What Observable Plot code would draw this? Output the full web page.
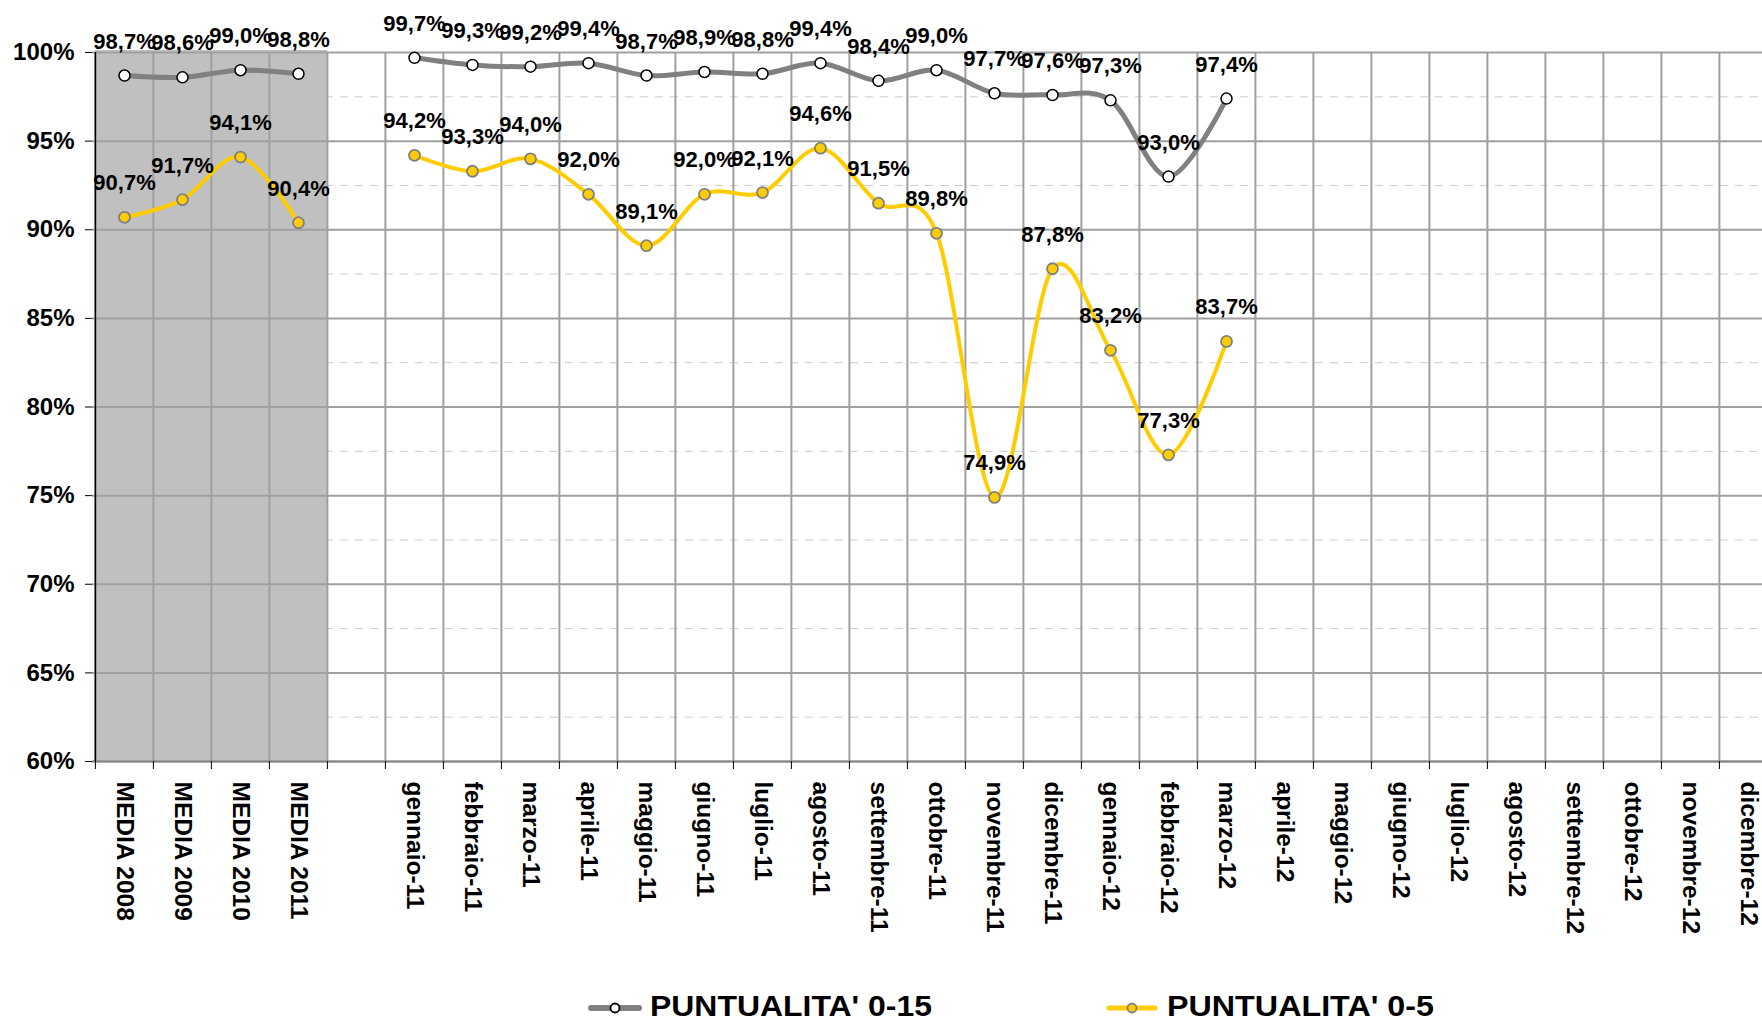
<!DOCTYPE html>
<html>
<head>
<meta charset="utf-8">
<script src="https://cdn.jsdelivr.net/npm/d3@7"></script>
<script src="https://cdn.jsdelivr.net/npm/@observablehq/plot@0.6"></script>
<style>
html, body { margin: 0; padding: 0; background: #fff; overflow: hidden; }
#wrap { position: relative; width: 1762px; height: 1023px; overflow: hidden; font-family: "Liberation Sans", Arial, sans-serif; }
#chart { position: absolute; left: 0; top: 0; width: 1780px; }
#legend { position: absolute; left: 0; top: 972px; }
</style>
</head>
<body>
<div id="wrap">
  <div id="chart"></div>
  <svg id="legend" width="1762" height="51"></svg>
</div>
<script>
// ---- data ----
const mediaLabels = ["MEDIA 2008", "MEDIA 2009", "MEDIA 2010", "MEDIA 2011"];
const gapLabel = " ";
const monthLabels = [
  "gennaio-11", "febbraio-11", "marzo-11", "aprile-11", "maggio-11", "giugno-11",
  "luglio-11", "agosto-11", "settembre-11", "ottobre-11", "novembre-11", "dicembre-11",
  "gennaio-12", "febbraio-12", "marzo-12", "aprile-12", "maggio-12", "giugno-12",
  "luglio-12", "agosto-12", "settembre-12", "ottobre-12", "novembre-12", "dicembre-12"
];
const p15Media = [98.7, 98.6, 99.0, 98.8];
const p15Monthly = [99.7, 99.3, 99.2, 99.4, 98.7, 98.9, 98.8, 99.4, 98.4, 99.0, 97.7, 97.6, 97.3, 93.0, 97.4];
const p5Media = [90.7, 91.7, 94.1, 90.4];
const p5Monthly = [94.2, 93.3, 94.0, 92.0, 89.1, 92.0, 92.1, 94.6, 91.5, 89.8, 74.9, 87.8, 83.2, 77.3, 83.7];
const yMajorTicks = [60, 65, 70, 75, 80, 85, 90, 95, 100];
const yMinorTicks = [62.5, 67.5, 72.5, 77.5, 82.5, 87.5, 92.5, 97.5];
const seriesNames = ["PUNTUALITA' 0-15", "PUNTUALITA' 0-5"];

// ---- build tables ----
const xDomain = [...mediaLabels, gapLabel, ...monthLabels];
const s15 = [], s5 = [];
mediaLabels.forEach((c, i) => {
  s15.push({cat: c, v: p15Media[i], seg: "media"});
  s5.push({cat: c, v: p5Media[i], seg: "media"});
});
p15Monthly.forEach((v, i) => s15.push({cat: monthLabels[i], v, seg: "mesi"}));
p5Monthly.forEach((v, i) => s5.push({cat: monthLabels[i], v, seg: "mesi"}));

const fmt = v => v.toFixed(1).replace(".", ",") + "%";

// ---- layout ----
const W = 1780, H = 960, ML = 92, MR = 0, MT = 52, MB = 199;
const bw = (W - ML - MR) / xDomain.length;
const GRAY = "#808080", GOLD = "#FFCC00", GRID = "#a0a0a0";
const FONT = "'Liberation Sans', Arial, sans-serif";

const chart = Plot.plot({
  width: W, height: H,
  marginLeft: ML, marginRight: MR, marginTop: MT, marginBottom: MB,
  style: {fontFamily: FONT, background: "transparent", color: "#000", maxWidth: "none", overflow: "visible"},
  x: {type: "band", domain: xDomain, padding: 0},
  y: {domain: [60, 100]},
  marks: [
    Plot.barY(mediaLabels, {x: d => d, y1: 60, y2: 100, fill: "#c0c0c0", insetTop: -2}),
    Plot.ruleY(yMinorTicks, {y: d => d, stroke: "#cccccc", strokeWidth: 1, strokeDasharray: "8,7", insetLeft: bw * mediaLabels.length}),
    Plot.ruleY(yMajorTicks, {y: d => d, stroke: GRID, strokeWidth: 2}),
    Plot.ruleX(xDomain, {x: d => d, dx: -bw / 2, stroke: GRID, strokeWidth: 2}),
    Plot.ruleY([60], {y: d => d, stroke: "#888", strokeWidth: 2}),
    Plot.ruleX([xDomain[0]], {x: d => d, dx: -bw / 2, stroke: "#000", strokeWidth: 1.5}),
    Plot.axisY({ticks: yMajorTicks, tickSize: 7, tickPadding: 11, tickFormat: d => d + "%", fontSize: 24, fontWeight: "bold", label: null}),
    Plot.axisX({tickSize: 8, dx: -bw / 2, tickFormat: () => "", label: null}),
    Plot.axisX({tickSize: 0, tickPadding: 20, tickRotate: 90, fontSize: 24.5, fontWeight: "bold", label: null}),
    Plot.line(s15, {x: "cat", y: "v", z: "seg", stroke: GRAY, strokeWidth: 5, curve: "cardinal"}),
    Plot.line(s5, {x: "cat", y: "v", z: "seg", stroke: GOLD, strokeWidth: 4, curve: "cardinal"}),
    Plot.dot(s15, {x: "cat", y: "v", r: 5.5, fill: "#fff", stroke: "#000", strokeWidth: 1.5}),
    Plot.dot(s5, {x: "cat", y: "v", r: 5.5, fill: GOLD, stroke: GRAY, strokeWidth: 1.8}),
    Plot.text(s15, {x: "cat", y: "v", text: d => fmt(d.v), dy: -34, fontSize: 22, fontWeight: "bold", fill: "#000"}),
    Plot.text(s5, {x: "cat", y: "v", text: d => fmt(d.v), dy: -34, fontSize: 22, fontWeight: "bold", fill: "#000"})
  ]
});
document.getElementById("chart").appendChild(chart);

// ---- legend ----
const leg = d3.select("#legend");
const items = [
  {name: seriesNames[0], x0: 588, x1: 642, tx: 650, tl: 282, line: GRAY, lw: 6, fill: "#fff", stroke: "#000"},
  {name: seriesNames[1], x0: 1106, x1: 1158, tx: 1167, tl: 267, line: GOLD, lw: 5, fill: GOLD, stroke: GRAY}
];
items.forEach(it => {
  leg.append("line").attr("x1", it.x0 + 3).attr("x2", it.x1 - 3).attr("y1", 36).attr("y2", 36)
    .attr("stroke", it.line).attr("stroke-width", it.lw).attr("stroke-linecap", "round");
  leg.append("circle").attr("cx", (it.x0 + it.x1) / 2).attr("cy", 36).attr("r", 4.5)
    .attr("fill", it.fill).attr("stroke", it.stroke).attr("stroke-width", 1.8);
  leg.append("text").attr("x", it.tx).attr("y", 44).text(it.name)
    .attr("font-family", FONT).attr("font-weight", "bold").attr("font-size", 30)
    .attr("textLength", it.tl).attr("lengthAdjust", "spacingAndGlyphs").attr("fill", "#000");
});
</script>
</body>
</html>
